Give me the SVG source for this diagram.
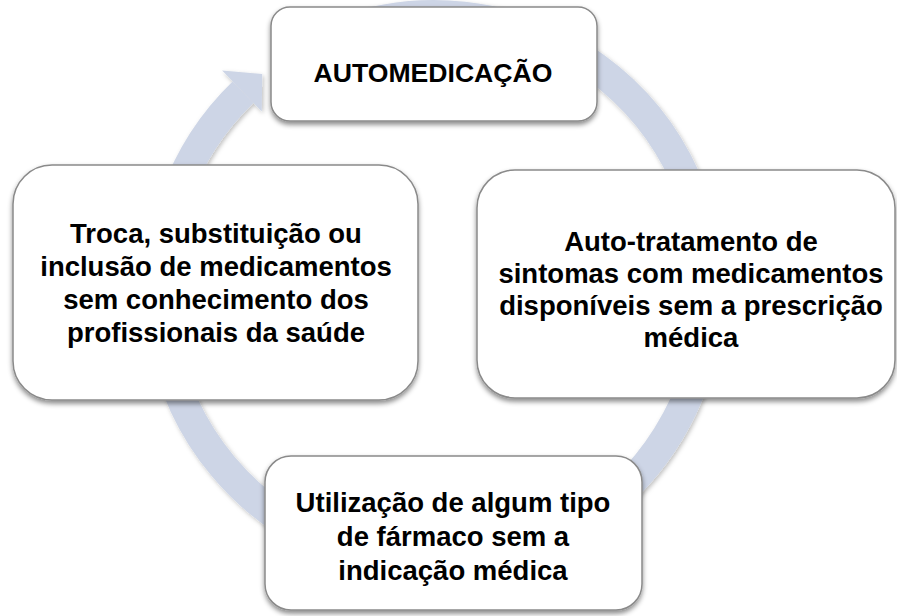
<svg xmlns="http://www.w3.org/2000/svg" width="897" height="616" viewBox="0 0 897 616">
  <defs>
    <filter id="boxShadow" x="-10%" y="-10%" width="120%" height="130%">
      <feDropShadow dx="0" dy="3" stdDeviation="2.5" flood-color="#000" flood-opacity="0.45"/>
    </filter>
    <filter id="ringShadow" x="-10%" y="-10%" width="120%" height="120%">
      <feDropShadow dx="1.5" dy="2" stdDeviation="2" flood-color="#000" flood-opacity="0.25"/>
    </filter>
  </defs>
  <style>
    .box { fill: #ffffff; stroke: #8a8a8a; stroke-width: 1.5; filter: url(#boxShadow); }
    .lbl { font-family: "Liberation Sans", Arial, sans-serif; font-weight: bold; font-size: 27.5px; fill: #000000; text-anchor: middle; }
    .ring { fill: none; stroke: #CDD5E6; stroke-width: 30; }
    .head { fill: #CDD5E6; stroke: none; }
  </style>
  <rect width="897" height="616" fill="#ffffff"/>
  <g id="connectors" filter="url(#ringShadow)">
    <path class="ring" d="M 339.9 31.6 A 275 275 0 1 1 243.0 92.2"/>
    <polygon class="head" points="222.1,70.6 262.2,74.0 261.7,111.6"/>
  </g>
  <g id="node-automedicacao">
    <rect class="box" x="271" y="7" width="326" height="114" rx="19" ry="19"/>
    <text class="lbl" x="433" y="82" style="font-size:26.6px">AUTOMEDICAÇÃO</text>
  </g>
  <g id="node-autotratamento">
    <rect class="box" x="477" y="170" width="418" height="228" rx="38" ry="38"/>
    <text class="lbl" x="691" y="251">Auto-tratamento de</text>
    <text class="lbl" x="691" y="283">sintomas com medicamentos</text>
    <text class="lbl" x="691" y="315">disponíveis sem a prescrição</text>
    <text class="lbl" x="691" y="347">médica</text>
  </g>
  <g id="node-utilizacao">
    <rect class="box" x="265" y="456" width="377" height="154" rx="26" ry="26"/>
    <text class="lbl" x="453" y="512">Utilização de algum tipo</text>
    <text class="lbl" x="453" y="546">de fármaco sem a</text>
    <text class="lbl" x="453" y="580">indicação médica</text>
  </g>
  <g id="node-troca">
    <rect class="box" x="13" y="165" width="405" height="235" rx="39" ry="39"/>
    <text class="lbl" x="216" y="243">Troca, substituição ou</text>
    <text class="lbl" x="216" y="276">inclusão de medicamentos</text>
    <text class="lbl" x="216" y="309">sem conhecimento dos</text>
    <text class="lbl" x="216" y="342">profissionais da saúde</text>
  </g>
</svg>
